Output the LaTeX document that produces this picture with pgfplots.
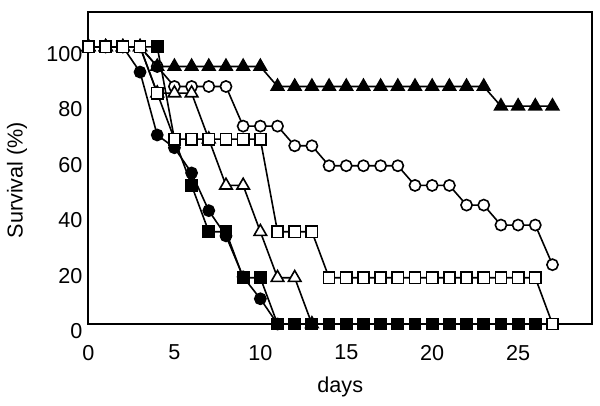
\documentclass[border=0pt]{standalone}
\usepackage{fontspec}
\setmainfont{Liberation Sans}
\usepackage{pgfplots}
\pgfplotsset{compat=1.18}

\pgfplotsset{
  ser/.style={black, line width=0.8pt, mark options={solid, line width=0.75pt}},
}

\begin{document}
\begin{tikzpicture}[font=\fontsize{10.8}{13}\selectfont]
\path[use as bounding box] (-44.25pt,-41pt) rectangle (255.75pt,162pt);
\begin{axis}[
  scale only axis, width=251.75pt, height=155.75pt,
  xmin=0, xmax=29.3, ymin=0, ymax=112.4,
  xtick={0,5,...,25}, ytick={0,20,...,100},
  axis line style={line width=1pt},
  major tick length=0pt,
  clip=false,
  /pgf/number format/assume math mode=true,
  tick label style={font=\fontsize{10.8}{13}\selectfont},
  label style={font=\fontsize{10.8}{13}\selectfont},
  xticklabel style={yshift=-7pt},
  yticklabel style={xshift=0.5pt, yshift=-3.5pt},
  xlabel={days}, ylabel={Survival (\%)},
  xlabel style={at={(axis description cs:0.5,0)}, anchor=north, yshift=-23pt},
  ylabel style={at={(axis description cs:0,0.462)}, anchor=center, yshift=35.75pt},
]
% open circles
\addplot[ser, mark=*, mark size=2.8pt, mark options={fill=white}] coordinates {
(0,100) (1,100) (2,100) (3,100) (4,92.9) (5,85.7) (6,85.7) (7,85.7) (8,85.7)
(9,71.4) (10,71.4) (11,71.4) (12,64.3) (13,64.3) (14,57.1) (15,57.1) (16,57.1)
(17,57.1) (18,57.1) (19,50) (20,50) (21,50) (22,42.9) (23,42.9) (24,35.7)
(25,35.7) (26,35.7) (27,21.4)};
% filled triangles
\addplot[ser, mark=triangle*, mark size=3.6pt, mark options={fill=black}] coordinates {
(0,100) (1,100) (2,100) (3,100) (4,92.9) (5,92.9) (6,92.9) (7,92.9) (8,92.9)
(9,92.9) (10,92.9) (11,85.7) (12,85.7) (13,85.7) (14,85.7) (15,85.7) (16,85.7)
(17,85.7) (18,85.7) (19,85.7) (20,85.7) (21,85.7) (22,85.7) (23,85.7) (24,78.6)
(25,78.6) (26,78.6) (27,78.6)};
% open triangles
\addplot[ser, mark=triangle*, mark size=3.6pt, mark options={fill=white}] coordinates {
(0,100) (1,100) (2,100) (3,100) (4,83.3) (5,83.3) (6,83.3) (7,66.7) (8,50)
(9,50) (10,33.3) (11,16.7) (12,16.7) (13,0)};
% filled circles
\addplot[ser, mark=*, mark size=2.8pt, mark options={fill=black}] coordinates {
(0,100) (1,100) (2,100) (3,90.9) (4,68.2) (5,63.6) (6,54.5) (7,40.9) (8,31.8)
(9,17) (10,9.1) (11,0)};
% filled squares
\addplot[ser, mark=square*, mark size=2.8pt, mark options={fill=black}] coordinates {
(0,100) (1,100) (2,100) (3,100) (4,100) (5,66.7) (6,50) (7,33.3) (8,33.3)
(9,16.7) (10,16.7) (11,0) (12,0) (13,0) (14,0) (15,0) (16,0) (17,0) (18,0)
(19,0) (20,0) (21,0) (22,0) (23,0) (24,0) (25,0) (26,0)};
% open squares
\addplot[ser, mark=square*, mark size=2.8pt, mark options={fill=white}] coordinates {
(0,100) (1,100) (2,100) (3,100) (4,83.3) (5,66.7) (6,66.7) (7,66.7) (8,66.7)
(9,66.7) (10,66.7) (11,33.3) (12,33.3) (13,33.3) (14,16.7) (15,16.7) (16,16.7)
(17,16.7) (18,16.7) (19,16.7) (20,16.7) (21,16.7) (22,16.7) (23,16.7) (24,16.7)
(25,16.7) (26,16.7) (27,0)};
\end{axis}
\end{tikzpicture}
\end{document}
